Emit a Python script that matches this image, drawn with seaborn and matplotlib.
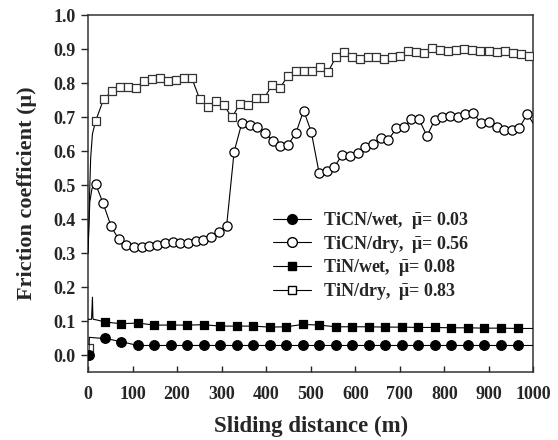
import numpy as np
import pandas as pd
import matplotlib
matplotlib.use("Agg")
import matplotlib.pyplot as plt
from matplotlib.lines import Line2D
import seaborn as sns

sns.set_style("ticks")
plt.rcParams['font.family'] = ['Liberation Serif', 'DejaVu Serif']
plt.rcParams['font.weight'] = 'bold'
plt.rcParams['mathtext.fontset'] = 'custom'
plt.rcParams['mathtext.rm'] = 'Liberation Serif:bold'
plt.rcParams['mathtext.it'] = 'Liberation Serif:bold'
plt.rcParams['mathtext.bf'] = 'Liberation Serif:bold'

# ---- data ----
# TiCN / wet  (filled circles)
ticn_wet_x = [2, 38, 75, 112, 149, 186, 223, 260, 297, 334, 371, 408, 445, 482,
              519, 556, 593, 630, 667, 704, 741, 778, 815, 852, 889, 926, 965]
ticn_wet_y = [0.0, 0.049, 0.039, 0.028, 0.028, 0.028, 0.028, 0.028, 0.028, 0.028,
              0.028, 0.028, 0.028, 0.028, 0.028, 0.028, 0.028, 0.028, 0.028, 0.028,
              0.028, 0.028, 0.028, 0.028, 0.028, 0.028, 0.028]
ticn_wet_line_x = [2, 3, 20, 38, 75, 112, 1000]
ticn_wet_line_y = [0.0, 0.052, 0.050, 0.049, 0.039, 0.028, 0.028]

# TiN / wet  (filled squares)
tin_wet_x = [38, 75, 112, 149, 186, 223, 260, 297, 334, 371, 408, 445, 482,
             519, 556, 593, 630, 667, 704, 741, 778, 815, 852, 889, 926, 965]
tin_wet_y = [0.097, 0.092, 0.094, 0.088, 0.088, 0.088, 0.089, 0.085, 0.085, 0.085,
             0.082, 0.083, 0.090, 0.088, 0.083, 0.083, 0.083, 0.082, 0.082, 0.081,
             0.081, 0.080, 0.080, 0.079, 0.079, 0.078]
tin_wet_line_x = [0, 8, 10, 11, 12, 20, 38]
tin_wet_line_y = [0.105, 0.105, 0.17, 0.11, 0.105, 0.103, 0.097]

# TiCN / dry  (open circles)
ticn_dry_x = [17, 34, 52, 69, 86, 104, 121, 138, 155, 173, 190, 207, 225, 242,
              259, 276, 294, 311, 328, 345, 363, 380, 397, 415, 432, 449, 467,
              484, 501, 519, 536, 553, 570, 588, 605, 622, 640, 657, 674, 692,
              709, 726, 743, 761, 778, 795, 813, 830, 847, 865, 882, 899, 917,
              934, 951, 968, 986]
ticn_dry_y = [0.503, 0.446, 0.378, 0.340, 0.324, 0.319, 0.319, 0.321, 0.324, 0.328,
              0.333, 0.328, 0.328, 0.336, 0.338, 0.348, 0.363, 0.378, 0.598, 0.681,
              0.676, 0.671, 0.654, 0.630, 0.615, 0.618, 0.654, 0.719, 0.657, 0.534,
              0.540, 0.553, 0.588, 0.585, 0.594, 0.612, 0.620, 0.637, 0.632, 0.667,
              0.671, 0.693, 0.693, 0.644, 0.691, 0.699, 0.703, 0.699, 0.709, 0.712,
              0.681, 0.686, 0.671, 0.662, 0.662, 0.667, 0.709]
ticn_dry_start_x = [0, 4, 9]
ticn_dry_start_y = [0.30, 0.45, 0.49]
ticn_dry_end_x = [1000]
ticn_dry_end_y = [0.68]

# TiN / dry  (open squares)
tin_dry_x = [2, 17, 35, 53, 71, 89, 107, 125, 143, 161, 179, 197, 215, 233, 251,
             269, 287, 305, 323, 341, 359, 377, 395, 413, 431, 449, 467, 485,
             503, 521, 539, 557, 575, 593, 611, 629, 647, 665, 683, 701, 719,
             737, 755, 773, 791, 809, 827, 845, 863, 881, 899, 917, 935, 953,
             971, 989]
tin_dry_y = [0.02, 0.688, 0.752, 0.775, 0.789, 0.787, 0.784, 0.807, 0.811, 0.816,
             0.807, 0.809, 0.814, 0.814, 0.752, 0.730, 0.748, 0.735, 0.699, 0.738,
             0.735, 0.755, 0.755, 0.793, 0.786, 0.821, 0.836, 0.836, 0.836, 0.846,
             0.833, 0.877, 0.892, 0.877, 0.872, 0.877, 0.877, 0.872, 0.875, 0.880,
             0.895, 0.890, 0.888, 0.902, 0.897, 0.895, 0.898, 0.900, 0.897, 0.893,
             0.895, 0.890, 0.893, 0.887, 0.885, 0.880]
tin_dry_start_x = [0, 3, 6, 10]
tin_dry_start_y = [0.30, 0.45, 0.58, 0.65]
tin_dry_end_x = [1000]
tin_dry_end_y = [0.878]

labels = [r"TiCN/wet,  $\bar{\mathrm{\mu}}$= 0.03", r"TiCN/dry,  $\bar{\mathrm{\mu}}$= 0.56",
          r"TiN/wet,  $\bar{\mathrm{\mu}}$= 0.08", r"TiN/dry,  $\bar{\mathrm{\mu}}$= 0.83"]
x_ticks = [0, 100, 200, 300, 400, 500, 600, 700, 800, 900, 1000]
y_ticks = [0.0, 0.1, 0.2, 0.3, 0.4, 0.5, 0.6, 0.7, 0.8, 0.9, 1.0]

# ---- figure ----
W, H = 558, 440
fig = plt.figure(figsize=(W / 100, H / 100), dpi=100)
ax = fig.add_axes([88 / W, 1 - 372 / H, (533.5 - 88) / W, (372 - 15) / H])

LW = 0.8

def line(x, y, z):
    df = pd.DataFrame({"x": x, "y": y})
    sns.lineplot(data=df, x="x", y="y", ax=ax, color="black", lw=LW,
                 sort=False, estimator=None, zorder=z, legend=False)

def marks(x, y, m, face, s, z, ec="black"):
    df = pd.DataFrame({"x": x, "y": y})
    sns.scatterplot(data=df, x="x", y="y", ax=ax, marker=m, s=s, color=face,
                    edgecolor=ec, linewidth=0.9, zorder=z, legend=False)

# TiN/dry
line(tin_dry_start_x + tin_dry_x[1:] + tin_dry_end_x,
     tin_dry_start_y + tin_dry_y[1:] + tin_dry_end_y, 2)
marks(tin_dry_x, tin_dry_y, "s", "white", 40, 3, ec="#333333")
# TiCN/dry
line(ticn_dry_start_x + ticn_dry_x + ticn_dry_end_x,
     ticn_dry_start_y + ticn_dry_y + ticn_dry_end_y, 4)
marks(ticn_dry_x, ticn_dry_y, "o", "white", 44, 5)
# TiN/wet
line(tin_wet_line_x + tin_wet_x + [1000], tin_wet_line_y + tin_wet_y + [0.078], 6)
marks(tin_wet_x, tin_wet_y, "s", "black", 34, 7)
# TiCN/wet
line(ticn_wet_line_x, ticn_wet_line_y, 8)
marks(ticn_wet_x, ticn_wet_y, "o", "black", 48, 9)

ax.set_xlim(0, 1000)
ax.set_ylim(-0.05, 1.0)
ax.set_xticks(x_ticks)
ax.set_yticks(y_ticks)
ax.set_yticklabels([f"{v:.1f}" for v in y_ticks])
ax.tick_params(axis="x", direction="in", length=4, width=1, labelsize=13, pad=10)
ax.tick_params(axis="y", direction="out", length=5, width=1, labelsize=13, pad=4)
for lab in ax.get_xticklabels() + ax.get_yticklabels():
    lab.set_fontweight("bold")
for sp in ax.spines.values():
    sp.set_linewidth(1.1)
    sp.set_color("#333333")
    sp.set_visible(True)

ax.set_xlabel("Sliding distance (m)", fontsize=16.5, fontweight="bold", labelpad=9)
ax.set_ylabel("Friction coefficient (\u03bc)", fontsize=16, fontweight="bold", labelpad=12)

handles = [
    Line2D([], [], color="black", lw=LW, marker="o", ms=7, mfc="black", mec="black"),
    Line2D([], [], color="black", lw=LW, marker="o", ms=7, mfc="white", mec="black"),
    Line2D([], [], color="black", lw=LW, marker="s", ms=6, mfc="black", mec="black"),
    Line2D([], [], color="black", lw=LW, marker="s", ms=6, mfc="white", mec="black"),
]
leg = ax.legend(handles, labels, loc="upper left",
                bbox_to_anchor=(273 / W, 1 - 210 / H), bbox_transform=fig.transFigure,
                frameon=False, borderpad=0, borderaxespad=0, handlelength=2.1,
                handletextpad=0.65, labelspacing=0.15,
                prop={"family": "Liberation Serif", "weight": "bold", "size": 13})

fig.savefig("out.png", dpi=100)
